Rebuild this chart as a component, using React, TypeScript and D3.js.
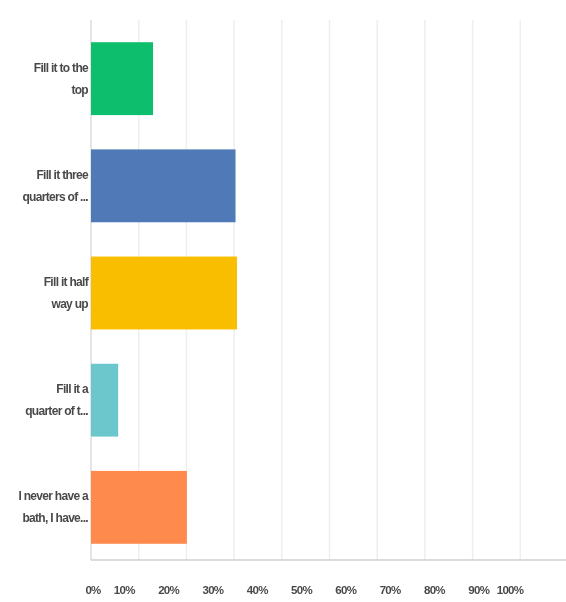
import React from "react";
import * as d3 from "d3";

const categories: string[][] = [
  ["Fill it to the", "top"],
  ["Fill it three", "quarters of ..."],
  ["Fill it half", "way up"],
  ["Fill it a", "quarter of t..."],
  ["I never have a", "bath, I have..."],
];
const values: number[] = [13.0, 30.3, 30.6, 5.7, 20.1];
const colors: string[] = ["#0dbf6c", "#4f79b7", "#f9be00", "#6cc7cd", "#fe8a4d"];
const tickValues: number[] = [0, 10, 20, 30, 40, 50, 60, 70, 80, 90, 100];

const W = 566;
const H = 602;

export default function App() {
  const ids = categories.map((_, i) => String(i));
  const x = d3.scaleLinear().domain([0, 100]).range([91, 568]);
  const y = d3.scaleBand().domain(ids).range([24, 562]).paddingInner(0.32).paddingOuter(0.17);
  const labelX = d3.scaleLinear().domain([0, 100]).range([80, 523]);
  const fam = "'Liberation Sans Narrow', 'Liberation Sans', Arial, sans-serif";
  return (
    <svg width={W} height={H} style={{ position: "absolute", left: 0, top: 0, background: "#fff" }}>
      <defs>
        <filter id="blur" x="-5%" y="-5%" width="110%" height="110%">
          <feGaussianBlur stdDeviation="0.6" />
        </filter>
      </defs>
      <g filter="url(#blur)">
        {tickValues.slice(1).map((t) => (
          <line key={t} x1={x(t)} x2={x(t)} y1={20} y2={560} stroke="#eeeeee" strokeWidth={1.5} />
        ))}
        <line x1={x(0)} x2={x(0)} y1={20} y2={560} stroke="#dcdcdc" strokeWidth={1.5} />
        <line x1={x(0)} x2={W} y1={560} y2={560} stroke="#cfcfcf" strokeWidth={1.5} />
        {values.map((v, i) => (
          <rect
            key={i}
            x={x(0)}
            y={y(ids[i])}
            width={x(v) - x(0)}
            height={y.bandwidth()}
            fill={colors[i]}
          />
        ))}
        {categories.map((lines, i) => {
          const cy = (y(ids[i]) as number) + y.bandwidth() / 2;
          return (
            <text
              key={i}
              x={88}
              textAnchor="end"
              fontFamily={fam}
              fontSize={12}
              fontWeight={600}
              fill="#4a4a4a"
              letterSpacing={-0.7}
            >
              {lines.map((l, j) => (
                <tspan key={j} x={88} y={cy - 11 + j * 22 + 4}>
                  {l}
                </tspan>
              ))}
            </text>
          );
        })}
        {tickValues.map((t) => {
          const cx = Math.max(93, Math.min(510, labelX(t)));
          return (
            <text
              key={t}
              x={cx}
              y={594}
              textAnchor="middle"
              fontFamily={fam}
              fontSize={11.5}
              fontWeight={600}
              fill="#4a4a4a"
              letterSpacing={-0.7}
            >
              {t + "%"}
            </text>
          );
        })}
      </g>
    </svg>
  );
}
